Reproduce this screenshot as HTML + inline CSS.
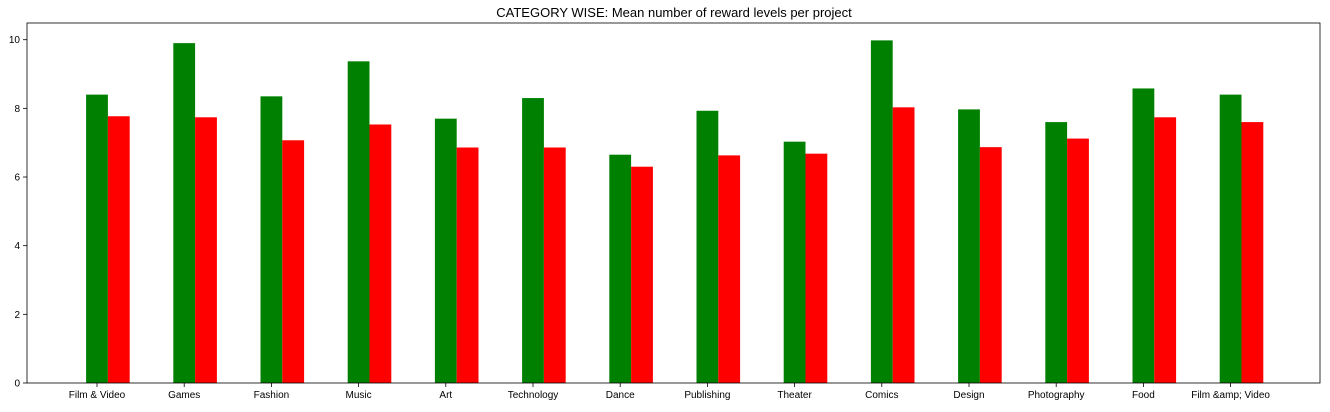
<!DOCTYPE html>
<html><head><meta charset="utf-8"><style>
body{margin:0;background:#fff;}
svg text{font-family:"Liberation Sans","DejaVu Sans",sans-serif;fill:#000;}
</style></head><body>
<svg id="chart" width="1330" height="407" xmlns="http://www.w3.org/2000/svg">
<text x="674" y="17" font-size="13" text-anchor="middle">CATEGORY WISE: Mean number of reward levels per project</text>
<g id="bars"></g>
<g id="axes"></g>
</svg>
<script>
const categories=["Film & Video","Games","Fashion","Music","Art","Technology","Dance","Publishing","Theater","Comics","Design","Photography","Food","Film &amp; Video"];
const greenValues=[8.4,9.9,8.35,9.37,7.7,8.3,6.65,7.93,7.03,9.98,7.97,7.6,8.58,8.4];
const redValues=[7.77,7.74,7.07,7.53,6.86,6.86,6.3,6.63,6.68,8.03,6.87,7.12,7.74,7.6];
const yTicks=[0,2,4,6,8,10];
const NS="http://www.w3.org/2000/svg";
const L=27,R=1320,T=23,B=383;
const step=87.2, x0=97, bw=21.8;
function xPos(i){return x0+i*step;}
function yPos(v){return B-v*34.33;}
function mk(tag,attrs,parent){const e=document.createElementNS(NS,tag);for(const k in attrs)e.setAttribute(k,attrs[k]);parent.appendChild(e);return e;}
const bars=document.getElementById('bars'),axes=document.getElementById('axes');
categories.forEach((c,i)=>{
  const g=mk('rect',{x:xPos(i)-bw/2,y:yPos(greenValues[i]),width:bw,height:B-yPos(greenValues[i]),fill:'#008000'},bars);
  
  
  const r=mk('rect',{x:xPos(i)+bw/2,y:yPos(redValues[i]),width:bw,height:B-yPos(redValues[i]),fill:'#ff0000'},bars);
  
  
  mk('line',{x1:xPos(i),x2:xPos(i),y1:B,y2:B+4,stroke:'#000','stroke-width':0.8},axes);
  const t=mk('text',{x:xPos(i),y:B+15,'font-size':10,'text-anchor':'middle'},axes);
  t.textContent=c;
  
  
});
yTicks.forEach(v=>{
  mk('line',{x1:L-4,x2:L,y1:yPos(v),y2:yPos(v),stroke:'#000','stroke-width':0.8},axes);
  const t=mk('text',{x:L-7,y:yPos(v)+3.5,'font-size':10,'text-anchor':'end'},axes);
  t.textContent=v;
  
  
});
const f=mk('rect',{x:L,y:T,width:R-L,height:B-T,fill:'none',stroke:'#000','stroke-width':0.8},axes);


</script>
</body></html>
